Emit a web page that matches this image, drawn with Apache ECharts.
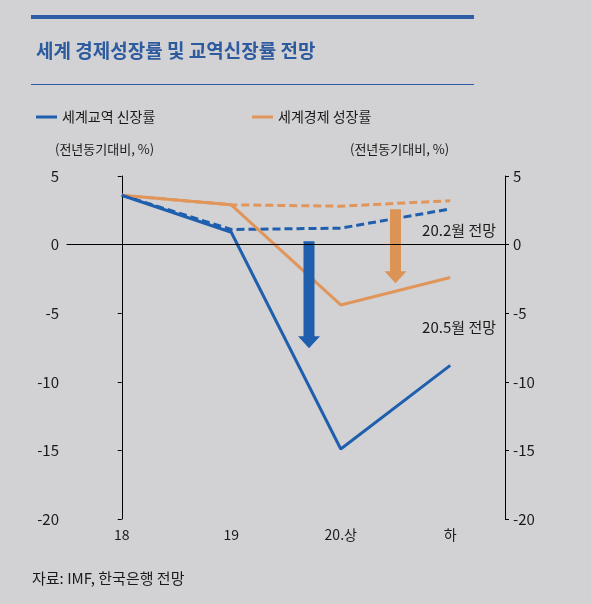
<!DOCTYPE html>
<html><head><meta charset="utf-8">
<script src="https://cdn.jsdelivr.net/npm/echarts@6/dist/echarts.min.js"></script>
<style>html,body{margin:0;padding:0;background:#d2d2d4;}#c{width:591px;height:604px;}</style>
</head><body><div id="c"></div>
<script>
const categories = ['18', '19', '20.상', '하'];
const tradeMay = [3.6, 0.9, -14.9, -8.8];
const tradeFeb = [3.6, 1.1, 1.2, 2.6];
const growthMay = [3.6, 2.9, -4.4, -2.4];
const growthFeb = [3.6, 2.9, 2.8, 3.2];
// arrows: [x position (category index units), start value, end value]
const arrowTrade = [[1.71, 0.24, -7.55]];
const arrowGrowth = [[2.5, 2.57, -2.82]];
const yTicks = { min: -20, max: 5, interval: 5 };

const BLUE = '#1f5fae';
const ORANGE = '#e0955a';
const FONT = "'Liberation Sans Narrow', 'Noto Sans CJK KR', sans-serif";
const KFONT = "'Noto Sans CJK KR', sans-serif";
const TXT = '#1a1a1a';

const chart = echarts.init(document.getElementById('c'), null, { renderer: 'canvas' });

function arrowRender(color) {
  return function (params, api) {
    const x = api.value(0), y0 = api.value(1), y1 = api.value(2);
    const p0 = api.coord([x, y0]);
    const p1 = api.coord([x, y1]);
    const sw = 5.5, hw = 11, hl = 12;
    const cx = p0[0];
    const pts = [
      [cx - sw, p0[1]], [cx + sw, p0[1]], [cx + sw, p1[1] - hl], [cx + hw, p1[1] - hl],
      [cx, p1[1]], [cx - hw, p1[1] - hl], [cx - sw, p1[1] - hl]
    ];
    return { type: 'polygon', shape: { points: pts }, style: { fill: color } };
  };
}

const valAxisCommon = {
  type: 'value', min: yTicks.min, max: yTicks.max, interval: yTicks.interval,
  splitLine: { show: false },
  axisLine: { show: true, lineStyle: { color: '#000', width: 1 } },
  axisTick: { show: true, length: 4, lineStyle: { color: '#000' } },
  axisLabel: { color: TXT, fontFamily: FONT, fontSize: 15, margin: 8 }
};

chart.setOption({
  backgroundColor: '#d2d2d4',
  animation: false,
  title: {
    text: '세계 경제성장률 및 교역신장률 전망',
    left: 31, top: 36,
    textStyle: { color: '#2e5b9e', fontFamily: KFONT, fontSize: 19, fontWeight: 'bold' }
  },
  legend: [
    { data: ['세계교역 신장률'], left: 31, top: 105, icon: 'rect', itemWidth: 21, itemHeight: 3, itemGap: 0,
      textStyle: { color: TXT, fontFamily: KFONT, fontSize: 14 } },
    { data: ['세계경제 성장률'], left: 247, top: 105, icon: 'rect', itemWidth: 21, itemHeight: 3, itemGap: 0,
      textStyle: { color: TXT, fontFamily: KFONT, fontSize: 14 } }
  ],
  grid: { left: 67, right: 86, top: 176, bottom: 85 },
  xAxis: [
    { type: 'category', data: categories, boundaryGap: true,
      axisLine: { lineStyle: { color: '#000', width: 1 } },
      axisTick: { alignWithLabel: true, inside: true, length: 4, lineStyle: { color: '#000' } },
      axisLabel: { color: TXT, fontFamily: FONT, fontSize: 14, margin: 9 } },
    { type: 'value', min: -0.5, max: 3.5, show: false }
  ],
  yAxis: [
    Object.assign({}, valAxisCommon, { position: 'left' }),
    Object.assign({}, valAxisCommon, { position: 'right' })
  ],
  graphic: [
    { type: 'rect', shape: { x: 31, y: 15, width: 443, height: 4 }, style: { fill: '#2e5fa6' } },
    { type: 'rect', shape: { x: 31, y: 84, width: 443, height: 1 }, style: { fill: '#2e5fa6' } },
    { type: 'text', left: 55, top: 143, style: { text: '(전년동기대비, %)', fill: TXT, font: "13px 'Noto Sans CJK KR', sans-serif" } },
    { type: 'text', left: 350, top: 143, style: { text: '(전년동기대비, %)', fill: TXT, font: "13px 'Noto Sans CJK KR', sans-serif" } },
    { type: 'text', left: 32, top: 571, style: { text: '자료: IMF, 한국은행 전망', fill: TXT, font: "15px 'Noto Sans CJK KR', sans-serif" } },
    { type: 'text', right: 95, top: 223, style: { text: '20.2월 전망', fill: TXT, font: "15px 'Noto Sans CJK KR', sans-serif" } },
    { type: 'text', right: 95, top: 320, style: { text: '20.5월 전망', fill: TXT, font: "15px 'Noto Sans CJK KR', sans-serif" } }
  ],
  series: [
    { name: '세계경제 성장률 (20.2월)', type: 'line', data: growthFeb, symbol: 'none',
      lineStyle: { color: ORANGE, width: 3, type: [8, 4] }, itemStyle: { color: ORANGE }, z: 2 },
    { name: '세계교역 신장률 (20.2월)', type: 'line', data: tradeFeb, symbol: 'none',
      lineStyle: { color: BLUE, width: 3, type: [8, 4] }, itemStyle: { color: BLUE }, z: 2,
      markLine: { silent: true, symbol: 'none', label: { show: false },
        lineStyle: { color: '#000', width: 1, type: 'solid' }, data: [{ yAxis: 0 }] } },
    { name: '세계경제 성장률', type: 'line', data: growthMay, symbol: 'none',
      lineStyle: { color: ORANGE, width: 3 }, itemStyle: { color: ORANGE }, z: 3 },
    { name: '세계교역 신장률', type: 'line', data: tradeMay, symbol: 'none',
      lineStyle: { color: BLUE, width: 3 }, itemStyle: { color: BLUE }, z: 3 },
    { type: 'custom', xAxisIndex: 1, yAxisIndex: 0, data: arrowTrade, renderItem: arrowRender(BLUE), z: 4 },
    { type: 'custom', xAxisIndex: 1, yAxisIndex: 0, data: arrowGrowth, renderItem: arrowRender('#dc9456'), z: 4 }
  ]
});
</script></body></html>
